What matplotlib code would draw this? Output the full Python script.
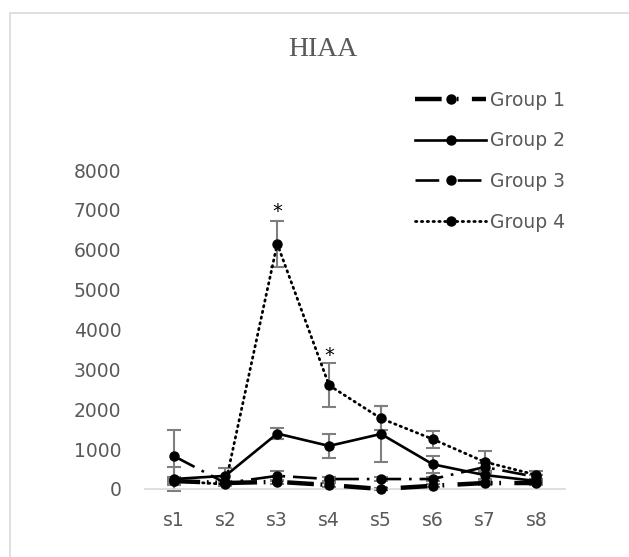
import matplotlib
matplotlib.use('Agg')
import matplotlib.pyplot as plt
from matplotlib.patches import Rectangle

# values
samples = ['s1', 's2', 's3', 's4', 's5', 's6', 's7', 's8']
group1 = [200, 150, 180, 100, 0, 80, 150, 150]
group2 = [250, 330, 1390, 1080, 1380, 620, 350, 200]
group3 = [830, 150, 330, 250, 250, 250, 550, 300]
group4 = [200, 120, 6150, 2600, 1770, 1250, 680, 350]
err1 = [50, 40, 50, 40, 30, 40, 50, 40]
err2 = [300, 200, 140, 310, 700, 220, 100, 60]
err3 = [640, 50, 120, 60, 60, 60, 100, 60]
err4 = [100, 50, 580, 550, 300, 210, 270, 100]
star_pos = ['s3', 's4']
star_y = [6950, 3350]

fig = plt.figure(figsize=(6.29, 5.57), dpi=100)
# outer chart-area border (runs off the right and bottom edges)
fig.patches.append(Rectangle((10 / 629, -0.1), 1.0, (557 - 13) / 557 + 0.1,
                             transform=fig.transFigure, fill=False,
                             edgecolor='#d9d9d9', lw=1.2))

ax = fig.add_axes([145 / 629, (557 - 489) / 557, 420 / 629, 319 / 557])
x = range(len(samples))

styles = [
    dict(lw=3.2, dashes=(6, 1.5, 0.4, 1.5, 0.4, 3)),
    dict(lw=1.9, linestyle='-'),
    dict(lw=1.9, dashes=(9, 3, 1, 3)),
    dict(lw=2.0, dashes=(0.5, 1.6), dash_capstyle='round'),
]
series = [group1, group2, group3, group4]
errs = [err1, err2, err3, err4]
labels = ['Group 1', 'Group 2', 'Group 3', 'Group 4']

handles = []
for vals, e, st, lab in zip(series, errs, styles, labels):
    ax.errorbar(x, vals, yerr=e, fmt='none', ecolor='#7f7f7f', elinewidth=1.5,
                capsize=5, capthick=1.5, zorder=2)
    h, = ax.plot(x, vals, color='black', marker='o', markersize=6.5,
                 label=lab, zorder=3, **st)
    handles.append(h)

for s, yv in zip(star_pos, star_y):
    ax.text(samples.index(s), yv, '*', ha='center', va='center',
            fontsize=14, color='black')

ax.set_xlim(-0.55, 7.55)
ax.set_ylim(0, 8000)
ax.set_yticks(range(0, 8001, 1000))
ax.set_xticks(list(x))
ax.set_xticklabels(samples)
for sp in ['top', 'right', 'left']:
    ax.spines[sp].set_visible(False)
ax.spines['bottom'].set_color('#d9d9d9')
ax.spines['bottom'].set_linewidth(1.2)
ax.tick_params(length=0, labelsize=13.5, labelcolor='#595959')
ax.tick_params(axis='x', pad=16)
ax.tick_params(axis='y', pad=17)
for ln in ax.lines:
    ln.set_clip_on(False)

fig.text(323 / 629, 1 - 50 / 557, 'HIAA', ha='center', va='center',
         fontsize=20, color='#595959', family='Liberation Serif')

fig.legend(handles=handles, loc='upper left', bbox_to_anchor=(398 / 629, 1 - 74 / 557),
           frameon=False, fontsize=13.5, labelspacing=1.15, handlelength=3.8,
           handletextpad=0.2, labelcolor='#595959')

fig.savefig('out.png', dpi=100)
